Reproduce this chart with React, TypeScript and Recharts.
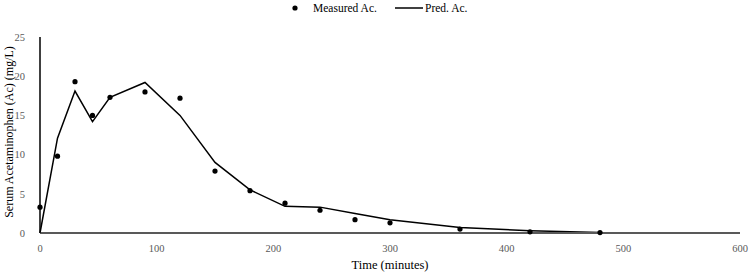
import {
  ComposedChart, Scatter, Line, XAxis, YAxis, Label,
} from 'recharts'

const measuredTime = [0, 15, 30, 45, 60, 90, 120, 150, 180, 210, 240, 270, 300, 360, 420, 480]
const measuredAc = [3.3, 9.8, 19.3, 15.0, 17.3, 18.0, 17.2, 7.9, 5.4, 3.8, 2.9, 1.7, 1.3, 0.5, 0.15, 0.05]

const predTime = [0, 15, 30, 45, 60, 90, 120, 150, 180, 210, 240, 270, 300, 360, 420, 480]
const predAc = [0, 12.1, 18.1, 14.2, 17.3, 19.2, 15.0, 9.0, 5.5, 3.4, 3.3, 2.5, 1.7, 0.7, 0.3, 0.05]

const xTicks = [0, 100, 200, 300, 400, 500, 600]
const yTicks = [0, 5, 10, 15, 20, 25]

const measured = measuredTime.map((t, i) => ({ t, ac: measuredAc[i] }))
const predicted = predTime.map((t, i) => ({ t, ac: predAc[i] }))

const FONT = '"Liberation Serif", "DejaVu Serif", serif'
const tick = { fill: '#595959', fontSize: 10.5, fontFamily: FONT }

const Dot = (props: any) => <circle cx={props.cx} cy={props.cy} r={2.6} fill="#000" />

function TopLegend() {
  return (
    <svg width={751} height={20} style={{ position: 'absolute', left: 0, top: 0 }}>
      <circle cx={295} cy={8} r={2.6} fill="#000" />
      <text x={313} y={12} fontFamily={FONT} fontSize={11.5} fill="#000">Measured Ac.</text>
      <line x1={395} x2={423} y1={8} y2={8} stroke="#000" strokeWidth={1.5} />
      <text x={425} y={12} fontFamily={FONT} fontSize={11.5} fill="#000">Pred. Ac.</text>
    </svg>
  )
}

export default function App() {
  return (
    <div style={{ position: 'absolute', left: 0, top: 0, width: 751, height: 274, background: '#fff' }}>
      <ComposedChart width={751} height={274} margin={{ top: 37, right: 11, bottom: 0, left: 0 }}>
        <XAxis
          type="number" dataKey="t" domain={[0, 600]} ticks={xTicks}
          axisLine={{ stroke: '#595959', strokeWidth: 2 }} tickLine={false}
          tick={tick} height={41} tickMargin={6}
        >
          <Label value="Time (minutes)" position="insideBottom" offset={5}
            style={{ fill: '#000', fontSize: 12.5, fontFamily: FONT }} />
        </XAxis>
        <YAxis
          type="number" dataKey="ac" domain={[0, 25]} ticks={yTicks}
          axisLine={{ stroke: '#000', strokeWidth: 1.5 }} tickLine={false}
          tick={tick} width={40} tickMargin={9}
        >
          <Label value="Serum Acetaminophen (Ac) (mg/L)" angle={-90} position="insideLeft"
            offset={9} dy={-3} style={{ textAnchor: 'middle', fill: '#000', fontSize: 12, fontFamily: FONT }} />
        </YAxis>
        <Line data={predicted} dataKey="ac" type="linear" stroke="#000" strokeWidth={1.5}
          dot={false} activeDot={false} isAnimationActive={false} />
        <Scatter data={measured} dataKey="ac" shape={Dot} fill="#000" isAnimationActive={false} />
      </ComposedChart>
      <TopLegend />
    </div>
  )
}
